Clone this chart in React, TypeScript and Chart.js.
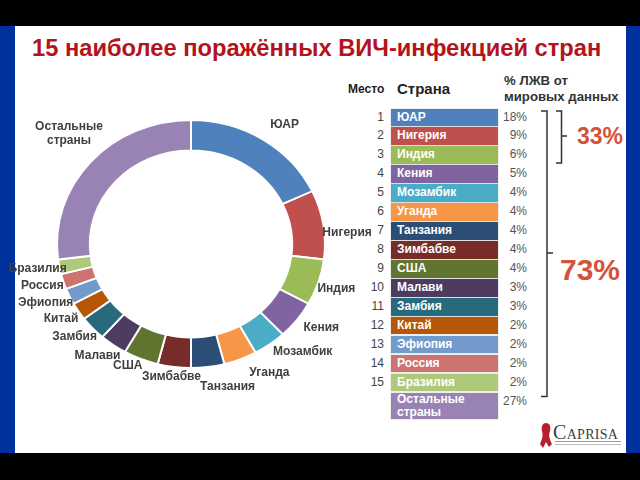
import React, { useEffect, useRef } from "react";
import { Chart, registerables } from "chart.js";

Chart.register(...registerables);

const titleText = "15 наиболее поражённых ВИЧ-инфекцией стран";
const countries = ["ЮАР", "Нигерия", "Индия", "Кения", "Мозамбик", "Уганда", "Танзания", "Зимбабве", "США", "Малави", "Замбия", "Китай", "Эфиопия", "Россия", "Бразилия", "Остальные страны"];
const chartLabels = ["ЮАР", "Нигерия", "Индия", "Кения", "Мозамбик", "Уганда", "Танзания", "Зимбабве", "США", "Малави", "Замбия", "Китай", "Эфиопия", "Россия", "Бразилия", "Остальные\nстраны"];
const shares = [18, 9, 6, 5, 4, 4, 4, 4, 4.2, 3.3, 3.2, 2.3, 2.1, 2, 1.9, 27];
const shareLabels = ["18%", "9%", "6%", "5%", "4%", "4%", "4%", "4%", "4%", "3%", "3%", "2%", "2%", "2%", "2%", "27%"];
const colors = ["#4f81bd", "#c0504d", "#9bbb59", "#8064a2", "#4bacc6", "#f79646", "#2c4d75", "#772c2a", "#5f7530", "#4d3b62", "#276a7c", "#b65708", "#729aca", "#cd7371", "#afc97a", "#9983b5"];
const labelNudges = [[10, 3], [2, 11], [-3, 0], [7, -5], [20, -9], [21, -5], [17, 0], [0, -10], [-5, -12], [-3, -6], [-2, -5], [1, -4], [-4, -2], [0, -2], [0, -2], [-5, -15]];

const SANS = "'Liberation Sans', Arial, sans-serif";
const Y_SQUASH = 0.925;

const ellipsePlugin = {
  id: "ellipse",
  beforeDatasetsDraw(chart: any) {
    const arc = chart.getDatasetMeta(0).data[0];
    const c = chart.ctx;
    c.save();
    c.translate(0, arc.y);
    c.scale(1, Y_SQUASH);
    c.translate(0, -arc.y);
  },
  afterDatasetsDraw(chart: any) {
    const c = chart.ctx;
    c.restore();
    const arcs = chart.getDatasetMeta(0).data;
    c.save();
    c.font = `bold 12px ${SANS}`;
    c.fillStyle = "#404040";
    c.textAlign = "center";
    c.textBaseline = "middle";
    arcs.forEach((a: any, i: number) => {
      const mid = (a.startAngle + a.endAngle) / 2;
      const r = 156;
      const x = a.x + r * Math.cos(mid) + labelNudges[i][0];
      const y = a.y + r * Y_SQUASH * Math.sin(mid) + labelNudges[i][1];
      const lines = chartLabels[i].split("\n");
      lines.forEach((t: string, k: number) => {
        c.fillText(t, x, y + (k - (lines.length - 1) / 2) * 14);
      });
    });
    c.restore();
  },
};

const abs = (left: number, top: number, extra: any = {}): any => ({ position: "absolute", left, top, ...extra });

export default function App() {
  const ref = useRef<HTMLCanvasElement>(null);
  useEffect(() => {
    const chart = new Chart(ref.current!, {
      type: "doughnut",
      data: {
        labels: countries,
        datasets: [{ data: shares, backgroundColor: colors, borderColor: "#ffffff", borderWidth: 2 }],
      },
      options: {
        responsive: false,
        animation: false,
        cutout: "75.5%",
        layout: { padding: { left: 56, top: 109, right: 314, bottom: 101 } },
        plugins: { legend: { display: false }, tooltip: { enabled: false } },
      },
      plugins: [ellipsePlugin],
    } as any);
    return () => chart.destroy();
  }, []);

  const rowTop = (i: number) => 108.5 + i * 18.95;
  return (
    <div style={{ position: "fixed", inset: 0, width: 640, height: 480, overflow: "hidden", background: "#000", fontFamily: SANS, filter: "blur(0.4px)" }}>
      <div style={abs(0, 26, { width: 640, height: 427, background: "#ffffff" })} />
      <div style={abs(0, 26, { width: 15, height: 427, background: "#00309c" })} />
      <div style={abs(626, 26, { width: 14, height: 427, background: "#00309c" })} />
      <div style={abs(32, 34, { fontSize: 23.7, lineHeight: "28px", fontWeight: 700, color: "#b3141b", whiteSpace: "nowrap" })}>{titleText}</div>

      <div style={abs(348, 82, { fontSize: 12, lineHeight: "14px", fontWeight: 700, color: "#222" })}>Место</div>
      <div style={abs(397, 80, { fontSize: 15, lineHeight: "18px", fontWeight: 700, color: "#222" })}>Страна</div>
      <div style={abs(504, 73, { fontSize: 13.2, lineHeight: "16px", fontWeight: 700, color: "#333", whiteSpace: "nowrap" })}>% ЛЖВ от<br />мировых данных</div>

      {countries.map((name, i) => {
        const last = i === countries.length - 1;
        return (
          <React.Fragment key={name}>
            {!last && <div style={abs(354, rowTop(i), { width: 30, height: 17.5, lineHeight: "17.5px", textAlign: "right", fontSize: 12, color: "#444" })}>{i + 1}</div>}
            <div style={abs(391, rowTop(i), { width: 107, height: last ? 26 : 17.5, background: colors[i], color: "#fff", fontSize: 12, fontWeight: 700, lineHeight: last ? "13.5px" : "17.5px", paddingLeft: 6, boxSizing: "border-box", boxShadow: "0 0 1px #999" })}>
              {last ? <>Остальные<br />страны</> : name}
            </div>
            <div style={abs(497, rowTop(i), { width: 30, height: 17.5, lineHeight: "17.5px", textAlign: "right", fontSize: 12, color: "#555" })}>{shareLabels[i]}</div>
          </React.Fragment>
        );
      })}

      <svg width={640} height={480} style={abs(0, 0)}>
        <path d="M556 111 H561.5 V163 H556 M561.5 136 H567" fill="none" stroke="#333" strokeWidth={1.5} />
        <path d="M541 111 H547 V396.5 H541 M547 253 H553" fill="none" stroke="#333" strokeWidth={1.5} />
        <path d="M546 423 C542 423 541 428 542 431 C543 435 543 437 540 444 L543 448 L546 442 L549 447 L552 444 C549 438 548.5 435 550 431 C551 427 550 423 546 423 Z" fill="#b5202b" />
        <rect x={555} y={441} width={66} height={1} fill="#999" />
        <rect x={555} y={444} width={66} height={1} fill="#bbb" />
      </svg>
      <div style={abs(577, 122, { fontSize: 23, lineHeight: "28px", fontWeight: 700, color: "#d4523a" })}>33%</div>
      <div style={abs(560, 254, { fontSize: 30, lineHeight: "32px", fontWeight: 700, color: "#d4523a" })}>73%</div>
      <div style={abs(553, 422, { fontFamily: "'Liberation Serif', serif", fontSize: 20, lineHeight: "20px", color: "#3a3f4a", fontVariant: "small-caps", letterSpacing: 0.3 })}>Caprisa</div>

      <canvas ref={ref} width={640} height={480} style={abs(0, 0)} />
    </div>
  );
}
